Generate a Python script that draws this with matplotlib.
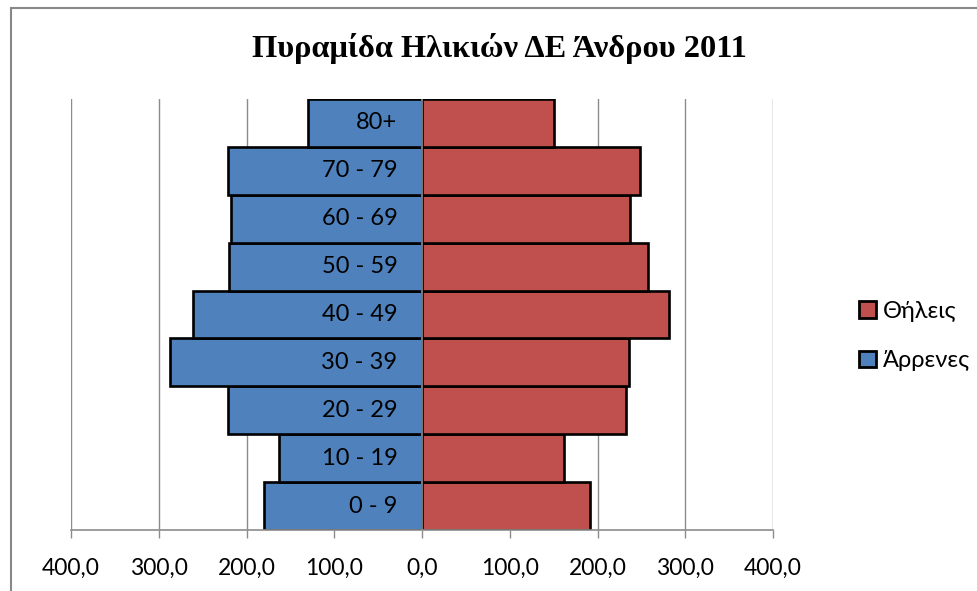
import matplotlib.pyplot as plt
from matplotlib.patches import Rectangle, Patch
from matplotlib.ticker import FuncFormatter

# age groups, bottom to top
age_groups = ['0 - 9', '10 - 19', '20 - 29', '30 - 39', '40 - 49',
              '50 - 59', '60 - 69', '70 - 79', '80+']
males = [180, 163, 221, 287, 261, 220, 218, 221, 130]      # Άρρενες
females = [192, 162, 232, 236, 282, 257, 237, 249, 150]    # Θήλεις

blue = '#4F81BD'
red = '#C0504D'
grid_grey = '#8C8C8C'

fig = plt.figure(figsize=(9.77, 5.91), dpi=100)
ax = fig.add_axes([71 / 977, 1 - 530 / 591, 702 / 977, 431 / 591])

ypos = list(range(len(age_groups)))
ax.barh(ypos, [-m for m in males], height=1.0, color=blue,
        edgecolor='black', linewidth=1.9, zorder=2)
ax.barh(ypos, females, height=1.0, color=red,
        edgecolor='black', linewidth=1.9, zorder=2)

# category labels inside the male bars
for y, lab in zip(ypos, age_groups):
    ax.text(-28, y, lab, ha='right', va='center', fontsize=17,
            family='Lato', color='black', zorder=3)

ax.axvline(0, color=grid_grey, linewidth=1.2, zorder=3)

ax.set_xlim(-400, 400)
ax.set_ylim(-0.5, len(age_groups) - 0.5)
ax.set_xticks(range(-400, 401, 100))
ax.xaxis.set_major_formatter(FuncFormatter(lambda v, p: f'{abs(v):.1f}'.replace('.', ',')))
ax.set_yticks([])
ax.grid(axis='x', color=grid_grey, linewidth=1.0, zorder=0)
ax.set_axisbelow(True)

for s in ['left', 'top', 'right']:
    ax.spines[s].set_visible(False)
ax.spines['bottom'].set_color(grid_grey)
ax.spines['bottom'].set_linewidth(1.2)
ax.tick_params(axis='x', direction='out', length=6, width=1.0, color=grid_grey,
               pad=14, labelsize=16.5)
for lbl in ax.get_xticklabels():
    lbl.set_family('Lato')

fig.text(499 / 977, 1 - 48 / 591, 'Πυραμίδα Ηλικιών ΔΕ Άνδρου 2011',
         ha='center', va='center', fontsize=23.3, fontweight='bold',
         family='Liberation Serif')

handles = [Patch(facecolor=red, edgecolor='black', linewidth=2.0, label='Θήλεις'),
           Patch(facecolor=blue, edgecolor='black', linewidth=2.0, label='Άρρενες')]
leg = fig.legend(handles=handles, loc='center left',
                 bbox_to_anchor=(838 / 977, 1 - 336 / 591), frameon=False,
                 prop={'family': 'Lato', 'size': 17}, handlelength=0.7,
                 handleheight=0.7, handletextpad=0.3, labelspacing=1.2)

# outer chart border (runs off the right and bottom edges)
fig.patches.append(Rectangle((11 / 977, -0.1), 1.2, 1.1 - 8 / 591,
                             transform=fig.transFigure, fill=False,
                             edgecolor='#888888', linewidth=1.5))

fig.savefig('out.png', dpi=100)
